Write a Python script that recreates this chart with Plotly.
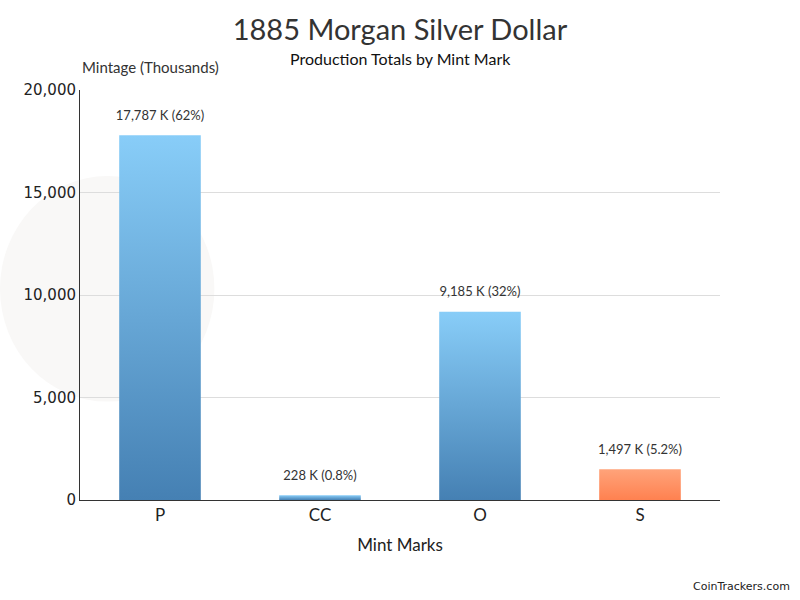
import plotly.graph_objects as go

# ---- data ----
mint_marks = ["P", "CC", "O", "S"]
mintage_k = [17787, 228, 9185, 1497]
share_labels = ["62%", "0.8%", "32%", "5.2%"]
top_colors = ["#88cdf8", "#88cdf8", "#88cdf8", "#ffa37a"]
bottom_colors = ["#4580b3", "#4580b3", "#4580b3", "#ff8150"]
y_ticks = [0, 5000, 10000, 15000, 20000]

half_w = 0.255
fig = go.Figure()

for i, (m, v, s, ct, cb) in enumerate(zip(mint_marks, mintage_k, share_labels, top_colors, bottom_colors)):
    fig.add_trace(go.Scatter(
        x=[i - half_w, i + half_w, i + half_w, i - half_w, i - half_w],
        y=[0, 0, v, v, 0],
        mode="lines",
        line=dict(width=0, color=ct),
        fill="toself",
        fillgradient=dict(type="vertical", colorscale=[[0, cb], [1, ct]]),
        hoverinfo="skip",
        showlegend=False,
    ))

fig.add_trace(go.Scatter(
    x=list(range(len(mint_marks))),
    y=mintage_k,
    mode="markers+text",
    marker=dict(size=18, opacity=0),
    text=[f"{v:,} K ({s})" for v, s in zip(mintage_k, share_labels)],
    textposition="top center",
    textfont=dict(family="Lato, sans-serif", size=13, color="#333333"),
    hoverinfo="skip",
    showlegend=False,
))

fig.update_layout(
    width=800, height=600,
    paper_bgcolor="white", plot_bgcolor="rgba(0,0,0,0)",
    margin=dict(l=80, r=80, t=90, b=100),
    title=dict(
        text="1885 Morgan Silver Dollar",
        x=0.5, xanchor="center", y=0.95, yanchor="middle",
        font=dict(family="Lato, sans-serif", size=29, color="#333333"),
    ),
    xaxis=dict(
        range=[-0.5, 3.5],
        tickvals=list(range(len(mint_marks))),
        ticktext=mint_marks,
        showline=True, linecolor="#333333", linewidth=1,
        showgrid=False, zeroline=False, ticks="",
        tickfont=dict(family="Lato, sans-serif", size=17, color="#222222"),
        title=dict(text="Mint Marks", font=dict(family="Lato, sans-serif", size=17, color="#222222"), standoff=14),
        fixedrange=True,
    ),
    yaxis=dict(
        range=[0, 20000],
        tickvals=y_ticks,
        tickformat=",d",
        showline=True, linecolor="#333333", linewidth=1,
        showgrid=True, gridcolor="#dddddd", gridwidth=1,
        zeroline=False, ticks="",
        tickfont=dict(family="DejaVu Sans, sans-serif", size=15, color="#222222"),
        fixedrange=True,
    ),
    shapes=[
        dict(type="circle", xref="paper", yref="paper", layer="below",
             x0=-0.125, x1=0.21, y0=0.24, y1=0.79,
             fillcolor="#f9f8f7", line=dict(width=0)),
    ],
    annotations=[
        dict(text="Production Totals by Mint Mark", xref="paper", yref="paper",
             x=0.5, y=1.078, xanchor="center", yanchor="middle", showarrow=False,
             font=dict(family="Lato, sans-serif", size=16, color="#111111")),
        dict(text="Mintage (Thousands)", xref="paper", yref="paper",
             x=0.0, y=1.056, xanchor="left", yanchor="middle", showarrow=False,
             font=dict(family="Lato, sans-serif", size=15, color="#333333")),
        dict(text="CoinTrackers.com", xref="paper", yref="paper",
             x=1.112, y=-0.212, xanchor="right", yanchor="middle", showarrow=False,
             font=dict(family="DejaVu Sans, sans-serif", size=11, color="#222222")),
    ],
)

fig.write_html("out.html", post_script="document.body.style.margin='0';",
               config={"displayModeBar": False})
